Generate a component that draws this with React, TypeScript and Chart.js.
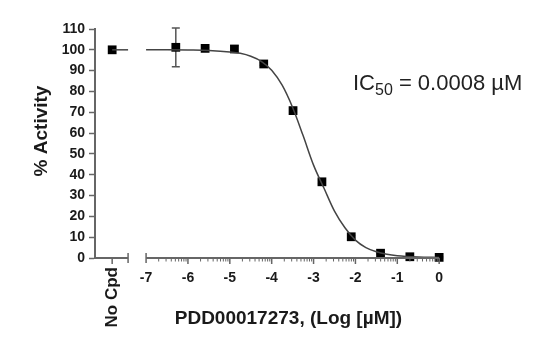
import React, { useEffect, useRef } from "react";
import { Chart, registerables } from "chart.js";

Chart.register(...registerables);

// ---- text ----
const xTitle = "PDD00017273, (Log [µM])";
const yTitle = "% Activity";
const noCpdLabel = "No Cpd";
const ic50Main = "IC";
const ic50Sub = "50";
const ic50Rest = " = 0.0008 µM";

// ---- axes ----
const yTicks = [0, 10, 20, 30, 40, 50, 60, 70, 80, 90, 100, 110];
const xMajorTicks = [-7, -6, -5, -4, -3, -2, -1, 0];
const xMinorSteps = [0.301, 0.477, 0.602, 0.699, 0.778, 0.845, 0.903, 0.954];
const xMin = -8.22;
const xMax = 0.02;
const breakStart = -7.43;
const breakEnd = -7.0;

// ---- data ----
const noCpdX = -7.81;
const noCpdActivity = 100;

const logConc = [-6.29, -5.59, -4.89, -4.19, -3.49, -2.8, -2.1, -1.4, -0.7, 0];
const activity = [101.2, 100.7, 100.4, 93.2, 70.8, 36.6, 10.2, 2.3, 0.6, 0.3];
const sem = [9.3, 0.5, 1.6, 0.6, 0.8, 0.9, 0.6, 0.4, 0.3, 0.3];

// fitted curve
const curveLogX = [-7, -6.5, -6, -5.5, -5, -4.75, -4.5, -4.25, -4, -3.75, -3.5, -3.25, -3, -2.75, -2.5, -2.25, -2, -1.75, -1.5, -1.25, -1, -0.5, 0];
const curveActivity = [100, 100, 99.9, 99.7, 99.0, 98.3, 96.9, 94.5, 90.2, 83.0, 72.3, 58.8, 44.6, 33.5, 22.5, 14.5, 8.6, 5.0, 3.0, 1.8, 1.1, 0.5, 0.3];
// plateau segment on the "No Cpd" part of the axis
const noCpdCurveX = [noCpdX, breakStart];
const noCpdCurveY = [100, 100];

const FONT = '"Liberation Sans", Arial, Helvetica, sans-serif';
const AXIS_COLOR = "#666";
const TEXT_COLOR = "#1a1a1a";

const decorPlugin = {
  id: "decor",
  beforeDatasetsDraw(chart: any) {
    const ctx = chart.ctx;
    const xs = chart.scales.x;
    const ys = chart.scales.y;
    // error bars
    ctx.save();
    ctx.strokeStyle = "#555";
    ctx.lineWidth = 1.5;
    logConc.forEach((lx, i) => {
      const px = xs.getPixelForValue(lx);
      const top = ys.getPixelForValue(activity[i] + sem[i]);
      const bot = ys.getPixelForValue(activity[i] - sem[i]);
      ctx.beginPath();
      ctx.moveTo(px, top);
      ctx.lineTo(px, bot);
      ctx.moveTo(px - 4, top);
      ctx.lineTo(px + 4, top);
      ctx.moveTo(px - 4, bot);
      ctx.lineTo(px + 4, bot);
      ctx.stroke();
    });
    ctx.restore();
  },
  afterDraw(chart: any) {
    const ctx = chart.ctx;
    const xs = chart.scales.x;
    const ys = chart.scales.y;
    const area = chart.chartArea;
    const y0 = ys.getPixelForValue(0);
    ctx.save();
    // x axis (broken)
    ctx.strokeStyle = AXIS_COLOR;
    ctx.lineWidth = 2;
    ctx.beginPath();
    ctx.moveTo(xs.getPixelForValue(xMin), y0);
    ctx.lineTo(xs.getPixelForValue(breakStart), y0);
    ctx.moveTo(xs.getPixelForValue(breakEnd), y0);
    ctx.lineTo(xs.getPixelForValue(0), y0);
    ctx.stroke();
    // break caps
    ctx.lineWidth = 1.5;
    ctx.beginPath();
    [breakStart, breakEnd].forEach((v) => {
      const p = xs.getPixelForValue(v);
      ctx.moveTo(p, y0 - 5);
      ctx.lineTo(p, y0 + 5);
    });
    // No Cpd tick
    const pn = xs.getPixelForValue(noCpdX);
    ctx.moveTo(pn, y0);
    ctx.lineTo(pn, y0 + 6);
    // major ticks
    xMajorTicks.forEach((v) => {
      if (v === breakEnd) return;
      const p = xs.getPixelForValue(v);
      ctx.moveTo(p, y0);
      ctx.lineTo(p, y0 + 6);
    });
    ctx.stroke();
    // minor ticks
    ctx.lineWidth = 1;
    ctx.beginPath();
    xMajorTicks.slice(0, -1).forEach((v) => {
      xMinorSteps.forEach((s) => {
        const p = xs.getPixelForValue(v + s);
        ctx.moveTo(p, y0);
        ctx.lineTo(p, y0 + 3.5);
      });
    });
    ctx.stroke();

    // No Cpd label (rotated)
    ctx.fillStyle = TEXT_COLOR;
    ctx.font = `bold 17px ${FONT}`;
    ctx.save();
    ctx.translate(pn, y0 + 9);
    ctx.rotate(-Math.PI / 2);
    ctx.textAlign = "right";
    ctx.textBaseline = "middle";
    ctx.fillText(noCpdLabel, 0, 0);
    ctx.restore();

    // axis titles
    ctx.font = `bold 19px ${FONT}`;
    ctx.textAlign = "center";
    ctx.textBaseline = "middle";
    ctx.fillText(xTitle, xs.getPixelForValue(-3.6), area.bottom + 61);
    ctx.save();
    ctx.translate(42, ys.getPixelForValue(61));
    ctx.rotate(-Math.PI / 2);
    ctx.fillText(yTitle, 0, 0);
    ctx.restore();

    // IC50 annotation
    ctx.fillStyle = "#222";
    ctx.textAlign = "left";
    ctx.textBaseline = "alphabetic";
    let tx = area.right - 87;
    const base = ys.getPixelForValue(80.5);
    ctx.font = `22px ${FONT}`;
    ctx.fillText(ic50Main, tx, base);
    tx += ctx.measureText(ic50Main).width;
    ctx.font = `16px ${FONT}`;
    ctx.fillText(ic50Sub, tx, base + 5);
    tx += ctx.measureText(ic50Sub).width;
    ctx.font = `22px ${FONT}`;
    ctx.fillText(ic50Rest, tx, base);
    ctx.restore();
  },
};

export default function App() {
  const ref = useRef<HTMLCanvasElement | null>(null);
  useEffect(() => {
    if (!ref.current) return;
    const chart = new Chart(ref.current, {
      type: "scatter",
      data: {
        datasets: [
          {
            type: "line",
            label: "fit",
            data: curveLogX.map((x, i) => ({ x, y: curveActivity[i] })),
            borderColor: "#444",
            borderWidth: 1.5,
            pointRadius: 0,
            cubicInterpolationMode: "monotone",
            clip: false,
          } as any,
          {
            type: "line",
            label: "fit-nocpd",
            data: noCpdCurveX.map((x, i) => ({ x, y: noCpdCurveY[i] })),
            borderColor: "#444",
            borderWidth: 1.5,
            pointRadius: 0,
            clip: false,
          } as any,
          {
            label: "data",
            data: logConc.map((x, i) => ({ x, y: activity[i] })),
            pointStyle: "rect",
            pointRadius: 6.2,
            backgroundColor: "#000",
            borderColor: "#000",
            borderWidth: 0,
            showLine: false,
            clip: false,
          } as any,
          {
            label: "nocpd",
            data: [{ x: noCpdX, y: noCpdActivity }],
            pointStyle: "rect",
            pointRadius: 6.2,
            backgroundColor: "#000",
            borderColor: "#000",
            borderWidth: 0,
            showLine: false,
            clip: false,
          } as any,
        ],
      },
      options: {
        animation: false,
        responsive: false,
        maintainAspectRatio: false,
        layout: { padding: { left: 0, top: 29, right: 105, bottom: 0 } },
        plugins: { legend: { display: false }, tooltip: { enabled: false } },
        scales: {
          x: {
            type: "linear",
            min: xMin,
            max: xMax,
            grid: { display: false, drawTicks: false },
            border: { display: false },
            afterBuildTicks: (s: any) => {
              s.ticks = xMajorTicks.map((v) => ({ value: v }));
            },
            afterFit: (s: any) => {
              s.height = 99;
            },
            ticks: {
              autoSkip: false,
              maxRotation: 0,
              padding: 12,
              color: TEXT_COLOR,
              font: { family: FONT, size: 14, weight: "bold" },
              callback: (v: any) => String(v),
            },
          },
          y: {
            type: "linear",
            min: 0,
            max: 110,
            afterBuildTicks: (s: any) => {
              s.ticks = yTicks.map((v) => ({ value: v }));
            },
            afterFit: (s: any) => {
              s.width = 95;
            },
            grid: {
              display: true,
              drawOnChartArea: false,
              drawTicks: true,
              tickLength: 6,
              tickColor: AXIS_COLOR,
              tickWidth: 1.5,
            },
            border: { display: true, color: AXIS_COLOR, width: 2 },
            ticks: {
              padding: 4,
              color: TEXT_COLOR,
              font: { family: FONT, size: 14, weight: "bold" },
            },
          },
        },
      },
      plugins: [decorPlugin],
    } as any);
    return () => chart.destroy();
  }, []);
  return (
    <div style={{ position: "fixed", left: 0, top: 0, width: 545, height: 357, background: "#fff" }}>
      <canvas ref={ref} width={545} height={357} style={{ width: 545, height: 357, display: "block" }} />
    </div>
  );
}
